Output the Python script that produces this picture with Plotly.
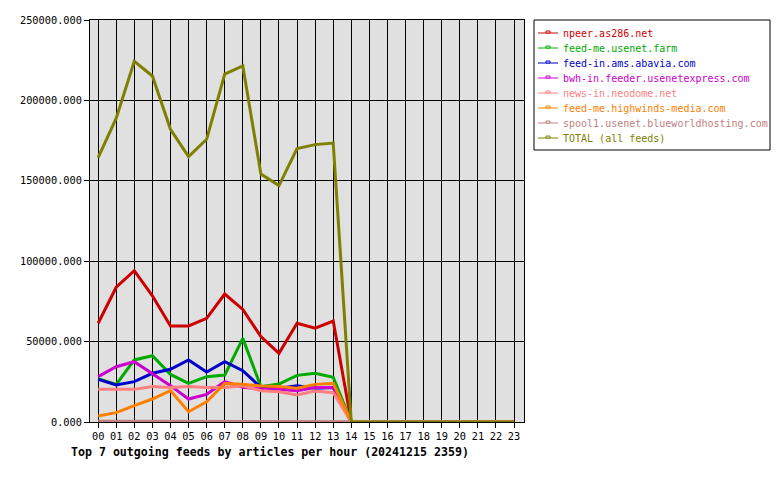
import plotly.graph_objects as go

hours = [f"{h:02d}" for h in range(24)]

npeer = [61400, 83800, 94100, 78500, 59700, 59700, 64500, 79600, 70000, 53100, 42700, 61400, 58300, 62800, 0] + [0] * 9
usenet_farm = [27000, 23400, 38600, 41200, 29600, 24000, 28200, 29200, 52000, 22000, 23600, 29000, 30300, 27800, 0] + [0] * 9
abavia = [26500, 23000, 25100, 30300, 32800, 38600, 31100, 37500, 31900, 21500, 21000, 22600, 21000, 21500, 0] + [0] * 9
usenetexpress = [28200, 34400, 37500, 30300, 22600, 14300, 17200, 25100, 21600, 20500, 20300, 19500, 21500, 21500, 0] + [0] * 9
neodome = [20300, 20300, 20300, 22000, 21500, 22000, 21500, 21500, 22500, 19500, 18800, 16800, 19300, 18200, 0] + [0] * 9
highwinds = [3700, 5800, 10200, 14300, 19500, 6400, 12600, 24000, 23400, 22400, 22000, 21000, 23400, 24000, 0] + [0] * 9
blueworld = [400, 400, 400, 400, 400, 400, 400, 400, 400, 400, 400, 400, 400, 400, 0] + [0] * 9
total = [164400, 188900, 224300, 215200, 182000, 165000, 175800, 216400, 221400, 154200, 147000, 170000, 172500, 173500, 0] + [0] * 9

names = [
    "npeer.as286.net",
    "feed-me.usenet.farm",
    "feed-in.ams.abavia.com",
    "bwh-in.feeder.usenetexpress.com",
    "news-in.neodome.net",
    "feed-me.highwinds-media.com",
    "spool1.usenet.blueworldhosting.com",
    "TOTAL (all feeds)",
]
series = [npeer, usenet_farm, abavia, usenetexpress, neodome, highwinds, blueworld, total]
colors = ["#CC0000", "#00AA00", "#0000CC", "#CC00CC", "#FF8080", "#FF8000", "#C08080", "#808000"]

fig = go.Figure()
for name, vals, col in zip(names, series, colors):
    fig.add_trace(go.Scatter(
        x=list(range(24)), y=vals, name=name, mode="lines",
        line=dict(color=col, width=3), showlegend=False,
    ))

mono = "DejaVu Sans Mono"

# plot area in pixels: x 90..524, y 20..422
PL, PR, PT, PB = 90, 524, 20, 422


def px(x):
    return (x - PL) / (PR - PL)


def py(y):
    return (PB - y) / (PB - PT)


shapes = [dict(type="rect", xref="paper", yref="paper",
               x0=px(534), x1=px(770), y0=py(150), y1=py(20),
               line=dict(color="black", width=1), fillcolor="white", layer="above")]
annotations = []
for i, (name, col) in enumerate(zip(names, colors)):
    ry = 33 + 15 * i
    shapes.append(dict(type="line", xref="paper", yref="paper",
                       x0=px(538), x1=px(558), y0=py(ry), y1=py(ry),
                       line=dict(color=col, width=1), layer="above"))
    shapes.append(dict(type="rect", xref="paper", yref="paper",
                       x0=px(546), x1=px(550), y0=py(ry), y1=py(ry - 2),
                       line=dict(color=col, width=1), fillcolor="white", layer="above"))
    annotations.append(dict(
        text=name, xref="paper", yref="paper", x=px(561), y=py(ry),
        xanchor="left", yanchor="middle", showarrow=False,
        font=dict(family=mono, size=10, color=col),
    ))

annotations.append(dict(
    text="<b>Top 7 outgoing feeds by articles per hour (20241215 2359)</b>",
    xref="paper", yref="paper", x=px(69), y=py(452), xanchor="left", yanchor="middle",
    showarrow=False, font=dict(family=mono, size=11.6, color="black"),
))

fig.update_layout(
    width=780, height=480,
    margin=dict(l=PL, r=780 - PR, t=PT, b=480 - PB),
    paper_bgcolor="white",
    plot_bgcolor="#E0E0E0",
    font=dict(family=mono, size=10, color="black"),
    showlegend=False,
    xaxis=dict(
        range=[-0.45, 23.55], tickmode="array", tickvals=list(range(24)), ticktext=hours,
        showgrid=True, gridcolor="black", gridwidth=1,
        showline=True, linecolor="black", linewidth=1, mirror=True,
        ticks="outside", ticklen=5, tickcolor="black",
        tickfont=dict(family=mono, size=10.3), zeroline=False,
    ),
    yaxis=dict(
        range=[0, 250000], dtick=50000, tickformat=".3f",
        showgrid=True, gridcolor="black", gridwidth=1,
        showline=True, linecolor="black", linewidth=1, mirror=True,
        ticks="outside", ticklen=5, tickcolor="black",
        tickfont=dict(family=mono, size=10.3), zeroline=False,
    ),
    shapes=shapes,
    annotations=annotations,
)

fig.write_html("out.html")
